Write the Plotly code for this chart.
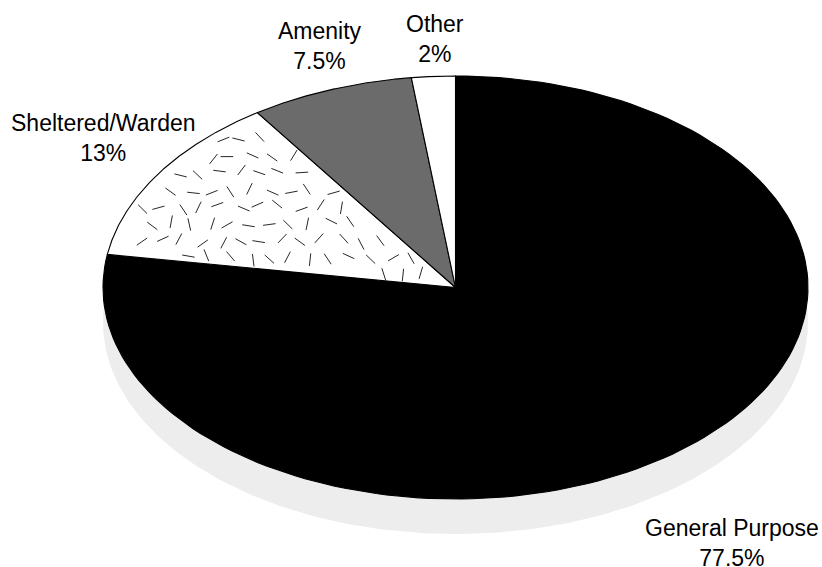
import math
import numpy as np
import plotly.graph_objects as go

categories = ["General Purpose", "Sheltered/Warden", "Amenity", "Other"]
values = [77.5, 13, 7.5, 2]
label_text = ["77.5%", "13%", "7.5%", "2%"]
fills = ["#000000", "#ffffff", "#6b6b6b", "#ffffff"]
line_cols = ["#000000", "#000000", "#000000", "#000000"]
shadow_color = "#ededed"

W, H = 822, 567
CX, CY, RX, RY = 455.5, 287.5, 352.5, 211.5
SHADOW_DY = 35 / RY
FONT = "Liberation Sans, Arial, sans-serif"


def wedge(start, end, n=160):
    t = np.radians(np.linspace(start, end, n))
    x = np.concatenate([[0], np.sin(t), [0]])
    y = np.concatenate([[0], np.cos(t), [0]])
    return x, y


def frac_hash(k, seed):
    v = math.sin(k * 12.9898 + seed * 78.233) * 43758.5453
    return v - math.floor(v)


fig = go.Figure()

# drop shadow under the ellipse
t = np.linspace(0, 2 * math.pi, 361)
fig.add_trace(go.Scatter(x=np.sin(t), y=np.cos(t) - SHADOW_DY, mode="lines", fill="toself",
                         fillcolor=shadow_color, line=dict(width=0), hoverinfo="skip"))

# slices, clockwise from 12 o'clock
cum = 0.0
spans = []
for name, v, f, lc in zip(categories, values, fills, line_cols):
    a0, a1 = cum * 3.6, (cum + v) * 3.6
    spans.append((a0, a1))
    x, y = wedge(a0, a1)
    fig.add_trace(go.Scatter(x=x, y=y, mode="lines", fill="toself", fillcolor=f,
                             line=dict(color=lc, width=1.1), name=name, hoverinfo="name"))
    cum += v

# flecked texture of the Sheltered/Warden slice
a0, a1 = spans[1]
px, py, ang = [], [], []
step = 20.0
k = 0
for row in range(-2, 40):
    for col in range(-2, 40):
        k += 1
        dx = frac_hash(k, 1) - 0.5
        dy = frac_hash(k, 2) - 0.5
        sx = 100 + col * step + (row % 2) * step / 2 + dx * 8
        sy = 105 + row * step * 0.85 + dy * 6
        ux = (sx - CX) / RX
        uy = (CY - sy) / RY
        r = math.hypot(ux, uy)
        a = math.degrees(math.atan2(ux, uy)) % 360
        margin = 1.5 / r if r > 0 else 99
        if 0.04 < r < 0.97 and a0 + margin < a < a1 - margin:
            px.append(ux)
            py.append(uy)
            ang.append(frac_hash(k, 3) * 180)
fig.add_trace(go.Scatter(x=px, y=py, mode="markers", hoverinfo="skip",
                         marker=dict(symbol="line-ew", size=9, angle=ang,
                                     line=dict(color="#000000", width=0.85))))

fig.update_layout(
    width=W, height=H, margin=dict(l=0, r=0, t=0, b=0), showlegend=False,
    paper_bgcolor="#ffffff", plot_bgcolor="#ffffff",
    xaxis=dict(range=[-CX / RX, (W - CX) / RX], visible=False, fixedrange=True),
    yaxis=dict(range=[(CY - H) / RY, CY / RY], visible=False, fixedrange=True),
)

# labels, placed in pixel-based paper coordinates
label_pos = {"General Purpose": (732, 543), "Sheltered/Warden": (103, 138),
             "Amenity": (320, 46), "Other": (435, 39)}
for name, txt in zip(categories, label_text):
    lx, ly = label_pos[name]
    fig.add_annotation(x=lx / W, y=1 - ly / H, xref="paper", yref="paper", showarrow=False,
                       text=f"{name}<br>{txt}", align="center", xanchor="center", yanchor="middle",
                       font=dict(family=FONT, size=23, color="#000000"))

fig.write_html("out.html", config={"displayModeBar": False},
               post_script="document.body.style.margin='0';")
